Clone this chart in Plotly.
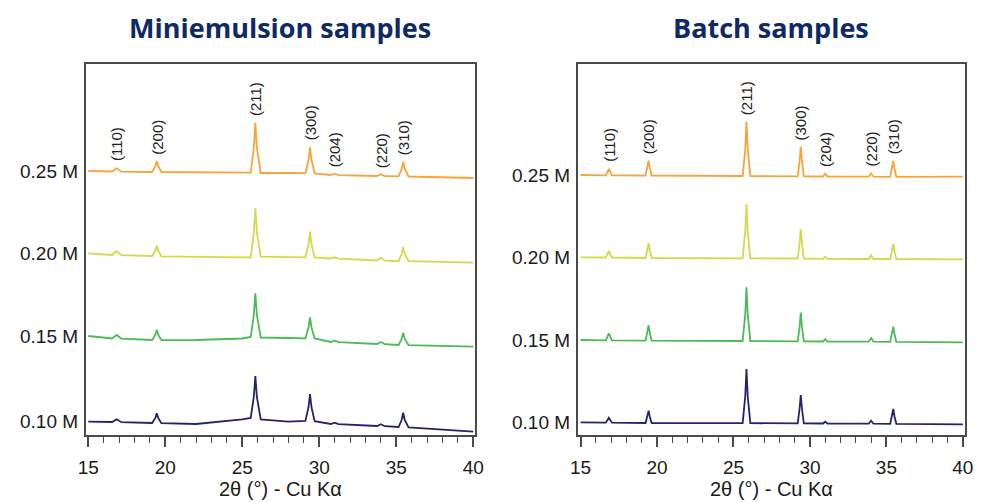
import numpy as np
import plotly.graph_objects as go

# ---------------- data ----------------
TITLES = ["Miniemulsion samples", "Batch samples"]
SERIES_NAMES = ["0.25 M", "0.20 M", "0.15 M", "0.10 M"]
HKL = ["(110)", "(200)", "(211)", "(300)", "(204)", "(220)", "(310)"]
PEAK_POS = [16.85, 19.45, 25.85, 29.4, 31.0, 34.0, 35.45]
X_TICKS = [15, 20, 25, 30, 35, 40]
X_TITLE = "2θ (°) - Cu Kα"

# Miniemulsion samples: 2theta grid and stacked intensities (a.u.)
LX = [15.0, 16.55, 16.85, 17.15, 19.15, 19.35, 19.45, 19.55, 19.75, 22.0, 25.0,
      25.55, 25.75, 25.85, 25.95, 26.2, 28.0, 29.1, 29.3, 29.4, 29.5, 29.7,
      30.75, 31.0, 31.25, 33.75, 34.0, 34.25, 35.15, 35.35, 35.45, 35.55, 35.8, 40.0]
L025 = [264, 263.5, 266.7, 263.3, 263, 268.5, 274, 268.5, 263, 262.5, 262.5,
        262.3, 287, 312.3, 287, 262, 262, 261.8, 275, 287.7, 275, 261.5,
        260, 261.3, 259.8, 259, 260.7, 258.8, 258.7, 266, 273, 266, 258.5, 257]
L020 = [181.7, 180, 184, 179.8, 179, 184, 189.3, 184, 178.7, 178, 177.7,
        177.7, 202.2, 226.7, 202.5, 178.3, 178, 177.7, 190.5, 203.3, 190.5, 177.5,
        176.5, 177.7, 176.3, 174.5, 177.3, 174.3, 174, 181, 187.7, 181, 173.8, 172.3]
L015 = [99, 96.5, 100, 96.3, 95, 100, 105, 100, 94.8, 95, 96.5,
        98, 120, 141.7, 120, 97.5, 97, 96.7, 107.2, 117.7, 107.2, 96.5,
        93, 94.3, 92.8, 91, 93, 90.8, 90, 96, 102.3, 96, 89.8, 88.3]
L010 = [13.3, 13, 15.7, 12.8, 12, 16.8, 21.7, 16.8, 11.8, 11, 15.7,
        17, 38, 59, 38, 15.5, 13.3, 14, 27.5, 41, 27.5, 13.8,
        11, 12.3, 10.8, 9, 10.7, 8.8, 8, 15, 22.3, 15, 7.7, 3.3]

# Batch samples
RX = [15.0, 16.65, 16.85, 17.05, 19.25, 19.37, 19.45, 19.53, 19.65, 25.6, 25.77,
      25.85, 25.93, 26.1, 29.2, 29.32, 29.4, 29.48, 29.6, 30.85, 31.0, 31.15,
      33.85, 34.0, 34.15, 35.25, 35.37, 35.45, 35.53, 35.65, 40.0]
R025 = [260, 259.7, 266, 259.7, 259.5, 267, 274.3, 267, 259.5, 259, 286,
        313.3, 286, 259, 258.7, 273.5, 288.3, 273.5, 258.7, 258.5, 261.3, 258.5,
        258.3, 261.7, 258.3, 258.2, 266, 274, 266, 258.2, 258.3]
R020 = [177.7, 177.5, 184, 177.5, 177, 184.3, 191.7, 184.3, 177, 176.7, 204,
        231, 204, 176.7, 176.5, 191.2, 206, 191.2, 176.5, 176.2, 178.3, 176.2,
        176, 179.7, 176, 176, 183.5, 191, 183.5, 176, 175.7]
R015 = [95, 94.7, 101.7, 94.7, 94.3, 102, 109.7, 102, 94.3, 94, 121,
        147.7, 121, 94, 93.7, 107.8, 122.3, 107.8, 93.7, 93.5, 96, 93.5,
        93.3, 97, 93.3, 93.2, 100.7, 108.3, 100.7, 93.2, 92.7]
R010 = [12.7, 12.3, 17.3, 12.3, 12, 18, 24.3, 18, 12, 11.8, 39,
        66, 39, 11.8, 11.7, 26, 40, 26, 11.7, 11.5, 13.3, 11.5,
        11.3, 14.3, 11.3, 11.2, 18.5, 26, 18.5, 11.2, 10.7]

# ---------------- style ----------------
COLORS = ["#F7A43C", "#D2DA4C", "#4CBA58", "#23246B"]
TITLE_COLOR = "#0F2966"
FRAME = "#4a4a4a"
FONT = "Liberation Sans, Arial, sans-serif"

panels = [
    dict(x=LX, ys=[L025, L020, L015, L010], xa="x", ya="y",
         dom=[79 / 984, 475 / 984], rng=[14.83, 40.1]),
    dict(x=RX, ys=[R025, R020, R015, R010], xa="x2", ya="y2",
         dom=[580 / 984, 973.5 / 984], rng=[14.83, 40.12]),
]
YDOM = [(502 - 435) / 502, (502 - 64) / 502]

fig = go.Figure()
annotations = []
for pi, p in enumerate(panels):
    xs = np.array(p["x"])
    for si, ys in enumerate(p["ys"]):
        fig.add_trace(go.Scatter(x=p["x"], y=ys, mode="lines", xaxis=p["xa"], yaxis=p["ya"],
                                 line=dict(color=COLORS[si], width=1.8), showlegend=False,
                                 name=SERIES_NAMES[si], hoverinfo="skip"))
        annotations.append(dict(text=SERIES_NAMES[si], xref=p["xa"] + " domain", yref=p["ya"],
                                x=0, y=ys[0], xanchor="right", yanchor="middle", xshift=-6,
                                showarrow=False, font=dict(size=19, color="#1a1a1a", family=FONT)))
    top = np.array(p["ys"][0])
    for lab, pos in zip(HKL, PEAK_POS):
        apex = top[np.abs(xs - pos) < 0.2].max()
        annotations.append(dict(text=lab, xref=p["xa"], yref=p["ya"], x=pos, y=apex + 24,
                                textangle=-90, xanchor="center", yanchor="middle",
                                showarrow=False, font=dict(size=15, color="#222222", family=FONT)))
    annotations.append(dict(text="<b>" + TITLES[pi] + "</b>", xref=p["xa"] + " domain", yref="paper",
                            x=0.5, y=(502 - 28) / 502, xanchor="center", yanchor="middle",
                            showarrow=False, font=dict(size=27, color=TITLE_COLOR, family="Open Sans")))
    annotations.append(dict(text=X_TITLE, xref=p["xa"] + " domain", yref="paper",
                            x=0.5, y=(502 - 489) / 502, xanchor="center", yanchor="middle",
                            showarrow=False, font=dict(size=20, color="#1a1a1a", family=FONT)))

xcommon = dict(showgrid=False, zeroline=False, showline=True, linecolor=FRAME, linewidth=2,
               mirror=True, ticks="outside", ticklen=10, tickwidth=1.5, tickcolor=FRAME,
               tickvals=X_TICKS, ticklabelstandoff=4,
               tickfont=dict(size=19, color="#1a1a1a", family=FONT),
               minor=dict(dtick=1, tick0=15, ticks="outside", ticklen=6, tickwidth=1.3,
                          tickcolor=FRAME, showgrid=False))
ycommon = dict(showgrid=False, zeroline=False, showline=True, linecolor=FRAME, linewidth=2,
               mirror=True, ticks="", showticklabels=False, range=[0, 371], domain=YDOM)

fig.update_layout(
    width=984, height=502, margin=dict(l=0, r=0, t=0, b=0),
    paper_bgcolor="white", plot_bgcolor="white",
    xaxis=dict(domain=panels[0]["dom"], range=panels[0]["rng"], anchor="y", **xcommon),
    yaxis=dict(anchor="x", **ycommon),
    xaxis2=dict(domain=panels[1]["dom"], range=panels[1]["rng"], anchor="y2", **xcommon),
    yaxis2=dict(anchor="x2", **ycommon),
    annotations=annotations,
)
fig.write_html("out.html")
